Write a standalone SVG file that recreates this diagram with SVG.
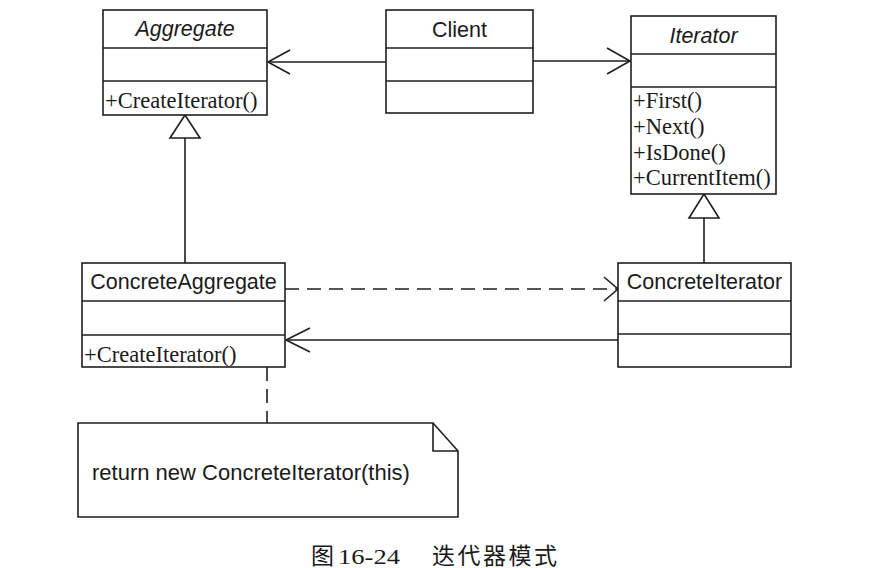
<svg xmlns="http://www.w3.org/2000/svg" width="875" height="568" viewBox="0 0 875 568">
  <style>
    .box { fill: #ffffff; stroke: #1e1e1e; stroke-width: 1.6; }
    .sep { stroke: #1e1e1e; stroke-width: 1.6; }
    .title { font-family: "Liberation Sans", Arial, sans-serif; font-size: 21.5px; fill: #1a1a1a; text-anchor: middle; }
    .abstract { font-style: italic; }
    .op { font-family: "Liberation Serif", "Times New Roman", serif; font-size: 22.5px; fill: #1a1a1a; }
    .line { fill: none; stroke: #1e1e1e; stroke-width: 1.6; }
    .dash { stroke-dasharray: 14 8; }
    .head { fill: none; stroke: #1e1e1e; stroke-width: 1.6; stroke-linejoin: miter; }
    .tri { fill: #ffffff; stroke: #1e1e1e; stroke-width: 1.6; }
    .note { font-family: "Liberation Sans", Arial, sans-serif; font-size: 22px; fill: #1a1a1a; }
    .caption { font-family: "Liberation Serif", "Noto Sans CJK SC", serif; font-size: 22px; fill: #1a1a1a; }
    .cjk { font-size: 23px; }
  </style>
  <rect width="875" height="568" fill="#ffffff"/>

  <g id="connectors">
    <!-- Client -> Aggregate -->
    <line class="line" x1="386" y1="62" x2="268" y2="62"/>
    <polyline class="head" points="290,50 268,62 290,74"/>
    <!-- Client -> Iterator -->
    <line class="line" x1="533" y1="61" x2="630" y2="61"/>
    <polyline class="head" points="607,48 630,61 607,74"/>
    <!-- ConcreteAggregate generalization to Aggregate -->
    <line class="line" x1="185" y1="138" x2="185" y2="263"/>
    <polygon class="tri" points="185,115 170,138 200,138"/>
    <!-- ConcreteIterator generalization to Iterator -->
    <line class="line" x1="704" y1="218" x2="704" y2="263"/>
    <polygon class="tri" points="704,194 689,218 719,218"/>
    <!-- ConcreteAggregate - - -> ConcreteIterator -->
    <line class="line dash" x1="285" y1="289" x2="617" y2="289"/>
    <polyline class="head" points="604,277 618,289 604,301"/>
    <!-- ConcreteIterator -> ConcreteAggregate -->
    <line class="line" x1="618" y1="340" x2="286" y2="340"/>
    <polyline class="head" points="310,328 286,340 310,352"/>
    <!-- Note anchor -->
    <line class="line dash" x1="267" y1="367" x2="267" y2="423"/>
  </g>

  <g id="Aggregate">
    <rect class="box" x="103" y="10" width="164" height="105"/>
    <line class="sep" x1="103" y1="48" x2="267" y2="48"/>
    <line class="sep" x1="103" y1="81" x2="267" y2="81"/>
    <text class="title abstract" x="185" y="36">Aggregate</text>
    <text class="op" x="105" y="108">+CreateIterator()</text>
  </g>

  <g id="Client">
    <rect class="box" x="386" y="10" width="147" height="103"/>
    <line class="sep" x1="386" y1="48" x2="533" y2="48"/>
    <line class="sep" x1="386" y1="81" x2="533" y2="81"/>
    <text class="title" x="459.5" y="37">Client</text>
  </g>

  <g id="Iterator">
    <rect class="box" x="631" y="16" width="145" height="178"/>
    <line class="sep" x1="631" y1="54" x2="776" y2="54"/>
    <line class="sep" x1="631" y1="87" x2="776" y2="87"/>
    <text class="title abstract" x="703.5" y="43">Iterator</text>
    <text class="op" x="633" y="108">+First()</text>
    <text class="op" x="633" y="134">+Next()</text>
    <text class="op" x="633" y="160">+IsDone()</text>
    <text class="op" x="633" y="185">+CurrentItem()</text>
  </g>

  <g id="ConcreteAggregate">
    <rect class="box" x="82" y="263" width="203" height="104"/>
    <line class="sep" x1="82" y1="301" x2="285" y2="301"/>
    <line class="sep" x1="82" y1="335" x2="285" y2="335"/>
    <text class="title" x="183.5" y="289">ConcreteAggregate</text>
    <text class="op" x="84" y="362">+CreateIterator()</text>
  </g>

  <g id="ConcreteIterator">
    <rect class="box" x="618" y="263" width="173" height="104"/>
    <line class="sep" x1="618" y1="301" x2="791" y2="301"/>
    <line class="sep" x1="618" y1="334" x2="791" y2="334"/>
    <text class="title" x="704.5" y="289">ConcreteIterator</text>
  </g>

  <g id="Note">
    <polygon class="box" points="78,423 433,423 458,451 458,517 78,517"/>
    <polyline class="line" points="433,423 433,451 458,451"/>
    <text class="note" x="92" y="480">return new ConcreteIterator(this)</text>
  </g>

  <g id="Caption">
    <text class="caption cjk" x="311" y="564">图</text>
    <text class="caption" x="338" y="564" textLength="62" lengthAdjust="spacingAndGlyphs">16-24</text>
    <text class="caption cjk" x="432" y="564" textLength="125" lengthAdjust="spacing">迭代器模式</text>
  </g>
</svg>
